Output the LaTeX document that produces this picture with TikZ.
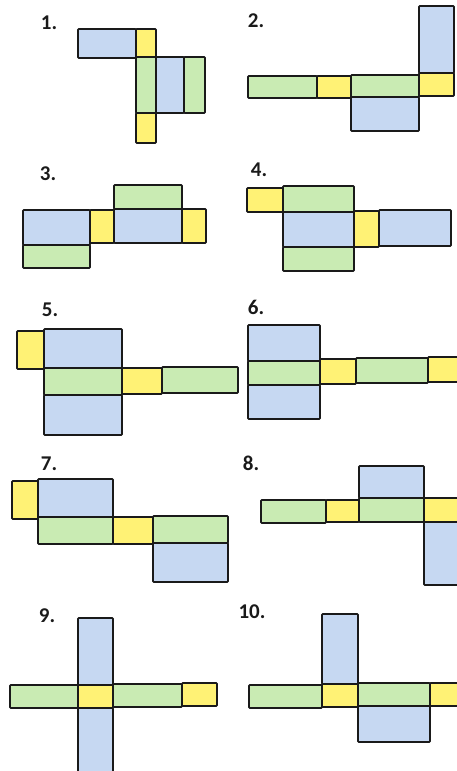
\documentclass[tikz,border=0pt]{standalone}
\usepackage{fontspec}
\setsansfont{Carlito}
\usepackage{tikz}
\usepackage{xcolor}
\definecolor{cBlue}{HTML}{C6D8F2}
\definecolor{cGreen}{HTML}{C9EBB3}
\definecolor{cYell}{HTML}{FFF275}
\definecolor{cInk}{HTML}{1A1A1A}
\tikzset{
  face/.style  ={draw=cInk,line width=1.6pt,rounded corners=0.8pt},
  bface/.style ={face,fill=cBlue},
  gface/.style ={face,fill=cGreen},
  yface/.style ={face,fill=cYell},
  lab/.style   ={font=\sffamily\bfseries\fontsize{21}{21}\selectfont,text=cInk,inner sep=0pt},
}

\begin{document}
\begin{tikzpicture}[x=1pt,y=-1pt]
\useasboundingbox (0,0) rectangle (457,771);
\clip (0,0) rectangle (457,771);
% net 1
\node[lab] (n1) at (49,23) {1.};
\draw[bface] (78,29) rectangle (136,58);
\draw[yface] (136,29) rectangle (156,57);
\draw[gface] (136,57) rectangle (156,113);
\draw[bface] (156,57) rectangle (184,113);
\draw[gface] (184,57) rectangle (205,113);
\draw[yface] (136,113) rectangle (156,143);
% net 2
\node[lab] (n2) at (256,21) {2.};
\draw[gface] (248,76) rectangle (317,98);
\draw[yface] (317,76) rectangle (351,98);
\draw[gface] (351,75) rectangle (419,97);
\draw[yface] (419,73) rectangle (454,96);
\draw[bface] (419,6) rectangle (454,73);
\draw[bface] (351,97) rectangle (419,131);
% net 3
\node[lab] (n3) at (48,174) {3.};
\draw[bface] (23,210) rectangle (90,245);
\draw[gface] (23,245) rectangle (90,268);
\draw[yface] (90,210) rectangle (114,243);
\draw[bface] (114,209) rectangle (182,243);
\draw[gface] (114,185) rectangle (182,209);
\draw[yface] (182,209) rectangle (206,243);
% net 4
\node[lab] (n4) at (259,170) {4.};
\draw[yface] (247,188) rectangle (283,212);
\draw[gface] (283,186) rectangle (354,212);
\draw[bface] (283,212) rectangle (354,247);
\draw[gface] (283,247) rectangle (354,271);
\draw[yface] (354,211) rectangle (379,247);
\draw[bface] (379,210) rectangle (451,246);
% net 5
\node[lab] (n5) at (50,310) {5.};
\draw[yface] (17,331) rectangle (44,369);
\draw[bface] (44,329) rectangle (122,368);
\draw[gface] (44,368) rectangle (122,395);
\draw[bface] (44,395) rectangle (122,435);
\draw[yface] (122,368) rectangle (162,394);
\draw[gface] (162,367) rectangle (238,393);
% net 6
\node[lab] (n6) at (256,307) {6.};
\draw[bface] (248,325) rectangle (320,361);
\draw[gface] (248,361) rectangle (320,385);
\draw[bface] (248,385) rectangle (320,419);
\draw[yface] (320,359) rectangle (356,384);
\draw[gface] (356,358) rectangle (428,383);
\draw[yface] (428,357) rectangle (470,382);
% net 7
\node[lab] (n7) at (49,464) {7.};
\draw[yface] (12,481) rectangle (38,519);
\draw[bface] (38,479) rectangle (113,517);
\draw[gface] (38,517) rectangle (113,544);
\draw[yface] (113,517) rectangle (153,544);
\draw[gface] (153,516) rectangle (228,543);
\draw[bface] (153,543) rectangle (228,582);
% net 8
\node[lab] (n8) at (251,463) {8.};
\draw[gface] (261,500) rectangle (326,523);
\draw[yface] (326,500) rectangle (359,522);
\draw[gface] (359,498) rectangle (424,522);
\draw[bface] (359,466) rectangle (424,498);
\draw[yface] (424,498) rectangle (470,522);
\draw[bface] (424,522) rectangle (470,585);
% net 9
\node[lab] (n9) at (47,616) {9.};
\draw[bface] (78,618) rectangle (113,685);
\draw[bface] (78,708) rectangle (113,790);
\draw[gface] (10,685) rectangle (78,708);
\draw[yface] (78,685) rectangle (113,708);
\draw[gface] (113,684) rectangle (182,707);
\draw[yface] (182,683) rectangle (217,706);
% net 10
\node[lab] (n10) at (252,612) {10.};
\draw[bface] (322,614) rectangle (358,684);
\draw[gface] (249,685) rectangle (322,708);
\draw[yface] (322,684) rectangle (358,707);
\draw[gface] (358,683) rectangle (430,706);
\draw[yface] (430,683) rectangle (470,706);
\draw[bface] (358,706) rectangle (430,742);
\end{tikzpicture}
\end{document}
